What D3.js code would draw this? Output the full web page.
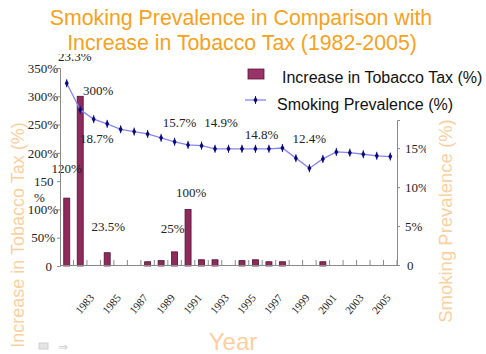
<!DOCTYPE html>
<html>
<head>
<meta charset="utf-8">
<script src="https://cdn.jsdelivr.net/npm/d3@7"></script>
<style>
  body { margin: 0; background: #fff; }
  svg { display: block; }
</style>
</head>
<body>
<svg id="chart" width="486" height="354" xmlns:xlink="http://www.w3.org/1999/xlink"></svg>
<script>
// data
const years = d3.range(1981, 2006);
const taxIncrease = [120, 300, 0, 23.5, 0, 0, 7.5, 9.5, 25, 100, 11, 11, 0, 9.5, 11, 7.5, 7.5, 0, 0, 7.5, 0, 0, 0, 0, 0];
const prevalence = [23.3, 19.9, 18.7, 18.1, 17.4, 17.1, 16.8, 16.3, 15.8, 15.4, 15.3, 14.9, 14.9, 14.9, 14.9, 14.9, 15.0, 13.7, 12.4, 13.6, 14.5, 14.4, 14.2, 14.0, 13.9];
const leftTicks = [0, 50, 100, 150, 200, 250, 300, 350];
const rightTicks = [0, 5, 10, 15];
const xTickYears = [1983, 1985, 1987, 1989, 1991, 1993, 1995, 1997, 1999, 2001, 2003, 2005];
const noteYears = [1981, 1983, 1989, 1992, 1995, 1999, 1981, 1982, 1984, 1989, 1990];
const noteSeries = ["prev", "prev", "prev", "prev", "prev", "prev", "tax", "tax", "tax", "tax", "tax"];
const noteTexts = ["23.3%", "18.7%", "15.7%", "14.9%", "14.8%", "12.4%", "120%", "300%", "23.5%", "25%", "100%"];

const svg = d3.select("#chart");
const serif = "'Liberation Serif', 'DejaVu Serif', serif";
const sans = "'Liberation Sans', Arial, sans-serif";
const axisGrey = "#8a8a8a";

const xStep = d3.scaleLinear().domain([1981, 2006]).range([60, 397]);
const yL = d3.scaleLinear().domain([0, 350]).range([266, 68]);
const yR = d3.scaleLinear().domain([0, 15]).range([265, 148]);
const cx = d => xStep(d) + (xStep(1982) - xStep(1981)) / 2;

const defs = svg.append("defs");
defs.append("clipPath").attr("id", "plotclip")
  .append("rect").attr("x", 0).attr("y", 54).attr("width", 486).attr("height", 300);
defs.append("clipPath").attr("id", "rclipl")
  .append("rect").attr("x", 0).attr("y", -20).attr("width", 29).attr("height", 40);

//title
const title = svg.append("text")
  .attr("text-anchor", "middle")
  .style("font", `21.3px ${sans}`).attr("fill", "#f7a11c");
title.append("tspan").attr("x", 241).attr("y", 25).text("Smoking Prevalence in Comparison with");
title.append("tspan").attr("x", 242).attr("y", 50).text("Increase in Tobacco Tax (1982-2005)");

const plot = svg.append("g").attr("clip-path", "url(#plotclip)");

//bars
plot.append("g").selectAll("rect")
  .data(years.map((y, i) => ({ year: y, v: taxIncrease[i] })).filter(d => d.v > 0))
  .join("rect")
  .attr("x", d => cx(d.year) - 3)
  .attr("width", 6)
  .attr("y", d => yL(d.v))
  .attr("height", d => yL(0) - yL(d.v))
  .attr("fill", "#8e2a5c")
  .attr("stroke", "#4f1232")
  .attr("stroke-width", 0.8);

//left axis
const gL = svg.append("g").attr("transform", "translate(60,0)")
  .call(d3.axisLeft(yL).tickValues(leftTicks).tickSize(3).tickPadding(-1)
    .tickFormat(d => d === 0 ? "0" : d + "%"));
gL.select(".domain").attr("stroke", axisGrey);
gL.selectAll(".tick line").attr("stroke", axisGrey);
gL.selectAll("text").style("font", `13px ${serif}`).attr("fill", "#222");
gL.selectAll(".tick").filter(d => d === 0).select("text").attr("dx", -6);
gL.selectAll(".tick").filter(d => d === 50).select("text").attr("dx", -3);
gL.selectAll(".tick").filter(d => d === 150).select("text").each(function () {
  const t = d3.select(this).text("").attr("text-anchor", "start").attr("x", -26);
  t.append("tspan").attr("x", -26).text("150");
  t.append("tspan").attr("x", -26).attr("dy", 16).text("%");
});

//right axis
const gR = svg.append("g").attr("transform", "translate(397,0)")
  .call(d3.axisRight(yR.copy().domain([0, 18.6]).range([265, 120])).tickValues(rightTicks).tickSize(3).tickPadding(5)
    .tickFormat(d => d === 0 ? "0" : d + "%"));
gR.select(".domain").attr("stroke", axisGrey);
gR.selectAll(".tick line").attr("stroke", axisGrey);
gR.selectAll("text").style("font", `13px ${serif}`).attr("fill", "#222")
  .attr("clip-path", "url(#rclipl)");
gR.selectAll(".tick").filter(d => d === 0).select("text").attr("dx", 2);

//x axis baseline + inner ticks at band edges
svg.append("line").attr("x1", 60).attr("x2", 397).attr("y1", 265.5).attr("y2", 265.5)
  .attr("stroke", axisGrey).attr("stroke-width", 1.2);
svg.append("g").selectAll("line").data(years.slice(1).concat([2006]))
  .join("line")
  .attr("x1", d => xStep(d)).attr("x2", d => xStep(d))
  .attr("y1", 265).attr("y2", 260)
  .attr("stroke", axisGrey);

// year labels run up-right along short diagonal paths
const ang = 50 * Math.PI / 180;
const run = 40;
defs.selectAll("path.yr").data(xTickYears)
  .join("path").attr("class", "yr")
  .attr("id", d => "yr" + d)
  .attr("d", d => {
    const ex = cx(d) + 1, ey = 298;
    return `M${ex - run * Math.cos(ang)},${ey + run * Math.sin(ang)}L${ex},${ey}`;
  });
svg.append("g").selectAll("text").data(xTickYears)
  .join("text")
  .style("font", `11px ${serif}`).attr("fill", "#222")
  .append("textPath")
  .attr("href", d => "#yr" + d)
  .attr("xlink:href", d => "#yr" + d)
  .attr("startOffset", "100%")
  .attr("text-anchor", "end")
  .text(d => d);

//prevalence line
const line = d3.line().x((d, i) => cx(years[i])).y(d => yR(d));
plot.append("path").datum(prevalence)
  .attr("d", line).attr("fill", "none")
  .attr("stroke", "#8686ee").attr("stroke-width", 1.3);

const marker = plot.append("g").selectAll("g")
  .data(prevalence).join("g")
  .attr("transform", (d, i) => `translate(${cx(years[i])},${yR(d)})`);
marker.append("line").attr("y1", -4).attr("y2", 4).attr("stroke", "#1a1a8a").attr("stroke-width", 1);
marker.append("path").attr("d", d3.symbol(d3.symbolDiamond, 14)).attr("fill", "#0a0a80");

//data notes
const nudge = [[8, -22], [3, 24], [5, -15], [6, -22], [6, -10], [0, -25], [0, -25], [18, -1], [1, -22], [-2, -19], [3, -12]];
plot.append("g").selectAll("text")
  .data(noteTexts)
  .join("text")
  .attr("x", (d, i) => cx(noteYears[i]) + nudge[i][0])
  .attr("y", (d, i) => {
    const k = years.indexOf(noteYears[i]);
    const base = noteSeries[i] === "tax" ? yL(taxIncrease[k]) : yR(prevalence[k]);
    return base + nudge[i][1];
  })
  .attr("text-anchor", "middle")
  .style("font", `13px ${serif}`).attr("fill", "#222")
  .text(d => d);

//legend
const lg = svg.append("g");
lg.append("rect").attr("x", 248).attr("y", 69).attr("width", 16).attr("height", 10)
  .attr("fill", "#9a3468").attr("stroke", "#5a1838").attr("stroke-width", 0.8);
lg.append("text").attr("x", 282).attr("y", 83).style("font", `16px ${sans}`).attr("fill", "#111")
  .text("Increase in Tobacco Tax (%)");
lg.append("line").attr("x1", 245).attr("x2", 266).attr("y1", 100).attr("y2", 100)
  .attr("stroke", "#8686ee").attr("stroke-width", 1.3);
lg.append("line").attr("x1", 255.5).attr("x2", 255.5).attr("y1", 96).attr("y2", 104).attr("stroke", "#1a1a8a");
lg.append("path").attr("transform", "translate(255.5,100)").attr("d", d3.symbol(d3.symbolDiamond, 14)).attr("fill", "#0a0a80");
lg.append("text").attr("x", 277).attr("y", 110).style("font", `16px ${sans}`).attr("fill", "#111")
  .text("Smoking Prevalence (%)");

//axis titles
const faint = "#fdcf9f";
svg.append("text").attr("transform", "translate(24,235) rotate(-90)")
  .attr("text-anchor", "middle").style("font", `18px ${sans}`).attr("fill", faint)
  .text("Increase in Tobacco Tax (%)");
svg.append("text").attr("transform", "translate(452,221) rotate(-90)")
  .attr("text-anchor", "middle").style("font", `18.5px ${sans}`).attr("fill", faint)
  .text("Smoking Prevalence (%)");
svg.append("text").attr("x", 233).attr("y", 350)
  .attr("text-anchor", "middle").style("font", `24px ${sans}`).attr("fill", faint)
  .text("Year");

//little slide icons bottom-left
svg.append("rect").attr("x", 39).attr("y", 343).attr("width", 9).attr("height", 6)
  .attr("fill", "#e4e4e4").attr("stroke", "#cfcfcf");
svg.append("text").attr("x", 58).attr("y", 351).style("font", `12px ${sans}`).attr("fill", "#cfcfcf").text("⇒");
</script>
</body>
</html>
